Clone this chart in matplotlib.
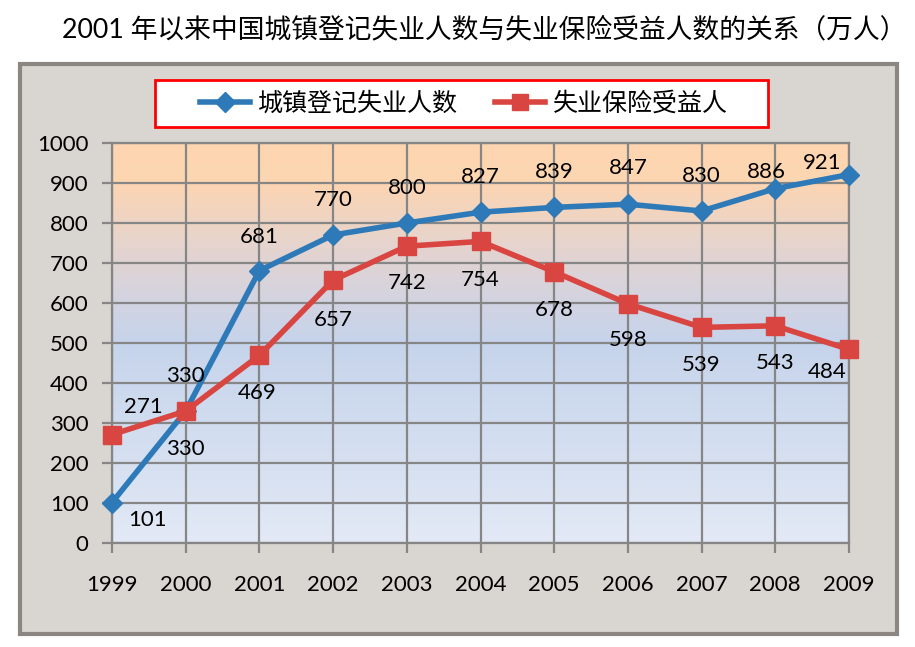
import numpy as np
import matplotlib
matplotlib.use("Agg")
import matplotlib.pyplot as plt
from matplotlib.colors import LinearSegmentedColormap
from matplotlib.patches import Rectangle
from matplotlib.lines import Line2D

plt.rcParams['font.family'] = ['Lato', 'Noto Sans CJK SC', 'DejaVu Sans']

# 数据
years = ['1999', '2000', '2001', '2002', '2003', '2004', '2005', '2006', '2007', '2008', '2009']
registered = [101, 330, 681, 770, 800, 827, 839, 847, 830, 886, 921]
benefit = [271, 330, 469, 657, 742, 754, 678, 598, 539, 543, 484]
series_names = ['城镇登记失业人数', '失业保险受益人']
title = '2001 年以来中国城镇登记失业人数与失业保险受益人数的关系（万人）'

# 标签偏移 (像素)
blue_off = [(36, -17), (0, 35), (0, 34), (0, 35), (0, 35), (0, 35), (0, 35), (0, 36), (0, 35), (-9, 17), (-27, 12)]
red_off = [(31, 28), (0, -38), (-2, -38), (0, -40), (0, -37), (0, -39), (0, -38), (0, -36), (0, -38), (0, -37), (-22, -23)]

BLUE = '#2e7ab8'
RED = '#d94540'
GRID = '#868686'

W, H = 915, 647
fig = plt.figure(figsize=(W / 100, H / 100), dpi=100)
fig.patch.set_facecolor('white')

# 外框
fig.patches.append(Rectangle((20 / W, 1 - 634 / H), 877 / W, 570 / H, transform=fig.transFigure,
                             facecolor='#d9d5d0', edgecolor='#8b8681', linewidth=3, zorder=-10))

fig.text(484 / W, 1 - 30 / H, title, ha='center', va='center', fontsize=19.3, color='black')

ax = fig.add_axes([112 / W, 1 - 543 / H, 737 / W, 400 / H])
ax.set_facecolor('none')

x = np.arange(len(years))

# 渐变背景
cmap = LinearSegmentedColormap.from_list('bg', [
    (0.0, '#e3e9f6'), (0.2, '#d6e0f1'), (0.5, '#c6d4eb'), (0.6, '#d2d3e2'),
    (0.75, '#e6d4cd'), (0.9, '#fcd5b2'), (1.0, '#fed6b0')])
grad = np.linspace(0, 1, 256).reshape(-1, 1)
ax.imshow(grad, cmap=cmap, origin='lower', aspect='auto',
          extent=[0, len(years) - 1, 0, 1000], zorder=0)

ax.set_xlim(0, len(years) - 1)
ax.set_ylim(0, 1000)
ax.set_xticks(x)
ax.set_xticklabels(years)
ax.set_yticks(range(0, 1001, 100))
ax.grid(True, color=GRID, linewidth=1.6, zorder=1)
for s in ax.spines.values():
    s.set_color(GRID)
    s.set_linewidth(1.6)
ax.tick_params(axis='both', direction='out', length=7, width=1.6, color=GRID, labelsize=16)
ax.tick_params(axis='x', pad=16)
ax.tick_params(axis='y', pad=10)

ax.plot(x, registered, color=BLUE, linewidth=4, marker='D', markersize=10, zorder=3, clip_on=False)
ax.plot(x, benefit, color=RED, linewidth=4, marker='s', markersize=13, zorder=3, clip_on=False)

for i in range(len(years)):
    ax.annotate(str(registered[i]), (x[i], registered[i]), xytext=blue_off[i], textcoords='offset pixels',
                ha='center', va='center', fontsize=16, zorder=4)
    ax.annotate(str(benefit[i]), (x[i], benefit[i]), xytext=red_off[i], textcoords='offset pixels',
                ha='center', va='center', fontsize=16, zorder=4)

# 图例
fig.patches.append(Rectangle((155 / W, 1 - 127 / H), 613 / W, 47 / H, transform=fig.transFigure,
                             facecolor='white', edgecolor='#ff0000', linewidth=2, zorder=1))
handles = [Line2D([], [], color=BLUE, linewidth=4, marker='D', markersize=10),
           Line2D([], [], color=RED, linewidth=4, marker='s', markersize=12)]
fig.legend(handles, series_names, loc='center', bbox_to_anchor=(464 / W, 1 - 103 / H),
           bbox_transform=fig.transFigure, ncol=2, frameon=False, fontsize=18,
           handlelength=2.0, columnspacing=1.5, handletextpad=0.3)

fig.savefig('out.png', dpi=100)
